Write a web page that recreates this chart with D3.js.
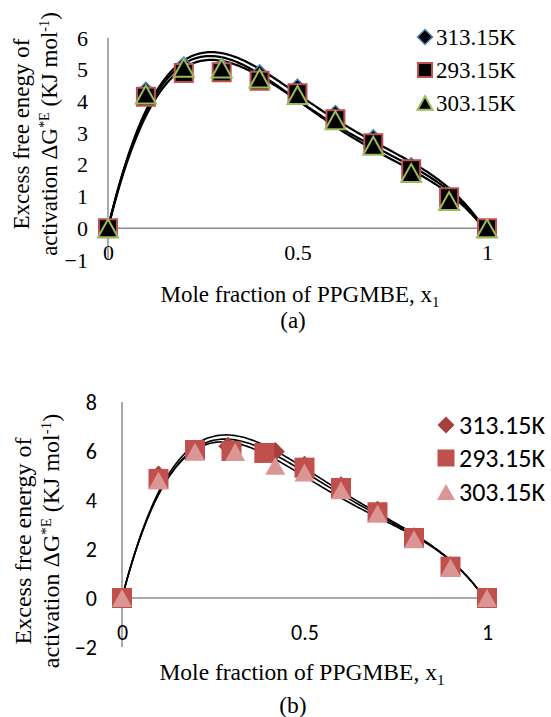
<!DOCTYPE html>
<html>
<head>
<meta charset="utf-8">
<script src="https://cdn.jsdelivr.net/npm/d3@7/dist/d3.min.js"></script>
<style>
  body { margin: 0; background: #fff; }
  svg { display: block; }
</style>
</head>
<body>
<svg id="chart" width="551" height="717"></svg>
<script>
// Series names (legend order)
const seriesNames = ["313.15K", "293.15K", "303.15K"];

// Panel (a): mole fraction x1 and excess free energy of activation (kJ/mol)
const xA = [0, 0.1, 0.2, 0.3, 0.4, 0.5, 0.6, 0.7, 0.8, 0.9, 1.0];
const a313 = [0, 4.35, 5.15, 5.10, 4.90, 4.45, 3.62, 2.85, 1.97, 1.05, 0];
const a293 = [0, 4.15, 4.90, 4.92, 4.65, 4.26, 3.44, 2.68, 1.86, 0.98, 0];
const a303 = [0, 4.22, 5.06, 5.04, 4.72, 4.20, 3.41, 2.60, 1.74, 0.86, 0];

// Panel (b)
const xB313 = [0, 0.1, 0.2, 0.29, 0.42, 0.5, 0.6, 0.7, 0.8, 0.9, 1.0];
const b313  = [0, 5.02, 6.08, 6.19, 5.98, 5.42, 4.58, 3.58, 2.50, 1.32, 0];
const xB293 = [0, 0.1, 0.2, 0.3, 0.39, 0.5, 0.6, 0.7, 0.8, 0.9, 1.0];
const b293  = [0, 4.86, 6.04, 6.00, 5.92, 5.32, 4.49, 3.50, 2.45, 1.28, 0];
const xB303 = [0, 0.1, 0.2, 0.31, 0.42, 0.5, 0.6, 0.7, 0.8, 0.9, 1.0];
const b303  = [0, 4.80, 5.97, 5.96, 5.40, 5.12, 4.40, 3.45, 2.40, 1.24, 0];

// Axis ticks
const xTicks = [0, 0.5, 1];
const yTicksA = [-1, 0, 1, 2, 3, 4, 5, 6];
const yTicksB = [-2, 0, 2, 4, 6, 8];

// Trendline: least-squares polynomial with zero intercept
const TREND_DEGREE = 4;
function polyFit(xs, ys, deg) {
  const n = deg;
  const M = Array.from({length: n}, () => new Array(n + 1).fill(0));
  xs.forEach((x, i) => {
    const phi = d3.range(1, deg + 1).map(k => Math.pow(x, k));
    for (let r = 0; r < n; r++) {
      for (let c = 0; c < n; c++) M[r][c] += phi[r] * phi[c];
      M[r][n] += phi[r] * ys[i];
    }
  });
  for (let p = 0; p < n; p++) {
    let best = p;
    for (let r = p + 1; r < n; r++) if (Math.abs(M[r][p]) > Math.abs(M[best][p])) best = r;
    [M[p], M[best]] = [M[best], M[p]];
    for (let r = 0; r < n; r++) {
      if (r === p) continue;
      const f = M[r][p] / M[p][p];
      for (let c = p; c <= n; c++) M[r][c] -= f * M[p][c];
    }
  }
  const coef = M.map((row, i) => row[n] / row[i]);
  return x => coef.reduce((s, cf, k) => s + cf * Math.pow(x, k + 1), 0);
}

const SERIF = '"Liberation Serif", "Times New Roman", serif';
const SANS = '"Carlito", "Lato", sans-serif';

const svg = d3.select("#chart");
svg.append("rect").attr("width", 551).attr("height", 717).attr("fill", "#fff");

function markerPath(kind, s) {
  const h = s / 2;
  if (kind === "diamond") return `M0,${-h}L${h},0L0,${h}L${-h},0Z`;
  if (kind === "square") return `M${-h},${-h}H${h}V${h}H${-h}Z`;
  const th = s * 0.9;
  return `M0,${-th / 2}L${h},${th / 2}L${-h},${th / 2}Z`;
}

function txt(sel, family, size) {
  return sel.style("font-family", family).style("font-size", size + "px").attr("fill", "#000");
}

function drawPanel(cfg) {
  const g = svg.append("g");
  const x = d3.scaleLinear().domain([0, 1]).range([cfg.x0, cfg.x1]);
  const y = d3.scaleLinear().domain(cfg.yDomain).range([cfg.yBottom, cfg.yTop]);

  // axis lines (no tick marks)
  g.append("line").attr("x1", x(0)).attr("x2", x(0))
    .attr("y1", y(cfg.yDomain[1])).attr("y2", y(cfg.yDomain[0]))
    .attr("stroke", "#8c8c8c").attr("stroke-width", 1.5);
  g.append("line").attr("x1", x(0)).attr("x2", x(1) + 3)
    .attr("y1", y(0)).attr("y2", y(0))
    .attr("stroke", "#8c8c8c").attr("stroke-width", 1.5);

  // y tick labels
  const yAxis = d3.axisLeft(y).tickValues(cfg.yTicks).tickSize(0).tickPadding(cfg.yPad)
    .tickFormat(d3.format("d"));
  const ya = g.append("g").attr("transform", `translate(${x(0)},0)`).call(yAxis);
  ya.select(".domain").remove();
  txt(ya.selectAll("text"), cfg.tickFont, cfg.tickSize);

  // x tick labels
  const xAxis = d3.axisBottom(x).tickValues(xTicks).tickSize(0).tickPadding(cfg.xPad)
    .tickFormat(d => d === 0.5 ? "0.5" : String(d));
  const xa = g.append("g").attr("transform", `translate(0,${y(0)})`).call(xAxis);
  xa.select(".domain").remove();
  txt(xa.selectAll("text"), cfg.tickFont, cfg.tickSize);

  // trendlines
  const xs = d3.range(0, 1.0001, 0.005);
  const line = d3.line().x(d => x(d[0])).y(d => y(d[1]));
  const fits = cfg.series.map(s => polyFit(s.x, s.y, TREND_DEGREE));
  fits.forEach(f => {
    g.append("path").datum(xs.map(v => [v, f(v)]))
      .attr("d", line).attr("fill", "none")
      .attr("stroke", "#fff").attr("stroke-width", cfg.lineW + 1.6);
  });
  fits.forEach(f => {
    g.append("path").datum(xs.map(v => [v, f(v)]))
      .attr("d", line).attr("fill", "none")
      .attr("stroke", "#000").attr("stroke-width", cfg.lineW);
  });

  // markers
  cfg.series.forEach(s => {
    g.append("g").selectAll("path").data(s.x.map((v, i) => [v, s.y[i]]))
      .join("path")
      .attr("transform", d => `translate(${x(d[0])},${y(d[1])})`)
      .attr("d", markerPath(s.kind, s.size))
      .attr("fill", s.fill).attr("stroke", s.stroke).attr("stroke-width", s.sw);
  });

  // legend
  const lg = g.append("g");
  cfg.series.forEach((s, i) => {
    const ly = cfg.legY[i];
    lg.append("path").attr("transform", `translate(${cfg.legMX},${ly})`)
      .attr("d", markerPath(s.kind, s.legSize))
      .attr("fill", s.fill).attr("stroke", s.stroke).attr("stroke-width", s.sw);
    txt(lg.append("text").attr("x", cfg.legTX).attr("y", ly).attr("dy", "0.35em"),
        cfg.legFont, cfg.legSize).text(seriesNames[i]);
  });

  // x-axis title
  const xt = txt(g.append("text").attr("x", cfg.xTitleX).attr("y", cfg.xTitleY)
    .attr("text-anchor", "middle"), SERIF, cfg.titleSize);
  xt.append("tspan").text("Mole fraction of PPGMBE, x");
  xt.append("tspan").style("font-size", (cfg.titleSize * 0.65) + "px").attr("dy", 5).text("1");

  // caption
  txt(g.append("text").attr("x", cfg.capX).attr("y", cfg.capY).attr("text-anchor", "middle"),
      SERIF, cfg.titleSize).text(cfg.caption);

  // y-axis title (two rotated lines)
  const yt = g.append("g").attr("transform", `translate(${cfg.yTitleX},${cfg.yTitleY}) rotate(-90)`);
  txt(yt.append("text").attr("x", 0).attr("y", 0).attr("text-anchor", "middle"),
      SERIF, cfg.ytSize).text(cfg.yLine1);
  const l2 = txt(yt.append("text").attr("x", 0).attr("y", cfg.yLineGap).attr("text-anchor", "middle"),
      SERIF, cfg.ytSize);
  const sup = (cfg.ytSize * 0.62) + "px";
  l2.append("tspan").text("activation ΔG");
  l2.append("tspan").style("font-size", sup).attr("dy", -8).text("*E");
  l2.append("tspan").attr("dy", 8).text(" (KJ mol");
  l2.append("tspan").style("font-size", sup).attr("dy", -8).text("-1");
  l2.append("tspan").attr("dy", 8).text(")");
}

drawPanel({
  x0: 108, x1: 487, yTop: 38, yBottom: 260, yDomain: [-1, 6],
  yTicks: yTicksA, tickFont: SERIF, tickSize: 22, yPad: 20, xPad: 16,
  lineW: 2.2,
  series: [
    {x: xA, y: a313, kind: "diamond", size: 16, legSize: 15, fill: "#000", stroke: "#4F81BD", sw: 1.5},
    {x: xA, y: a293, kind: "square", size: 18, legSize: 14, fill: "#000", stroke: "#C0504D", sw: 2},
    {x: xA, y: a303, kind: "triangle", size: 20, legSize: 15, fill: "#000", stroke: "#9BBB59", sw: 2}
  ],
  legMX: 425, legTX: 436, legY: [37, 70, 103], legFont: SERIF, legSize: 23,
  xTitleX: 300, xTitleY: 302, titleSize: 23, capX: 293, capY: 328, caption: "(a)",
  yTitleX: 29, yTitleY: 134, ytSize: 23, yLineGap: 28, yLine1: "Excess free enegy of"
});

drawPanel({
  x0: 122, x1: 487, yTop: 402, yBottom: 647, yDomain: [-2, 8],
  yTicks: yTicksB, tickFont: SANS, tickSize: 22, yPad: 25, xPad: 26,
  lineW: 1.6,
  series: [
    {x: xB313, y: b313, kind: "diamond", size: 19, legSize: 17, fill: "#A5403D", stroke: "none", sw: 0},
    {x: xB293, y: b293, kind: "square", size: 20, legSize: 17, fill: "#C0504D", stroke: "none", sw: 0},
    {x: xB303, y: b303, kind: "triangle", size: 20, legSize: 18, fill: "#D99694", stroke: "none", sw: 0}
  ],
  legMX: 446, legTX: 459, legY: [425, 458, 492], legFont: SANS, legSize: 26,
  xTitleX: 302, xTitleY: 680, titleSize: 23.5, capX: 293, capY: 713, caption: "(b)",
  yTitleX: 31, yTitleY: 541, ytSize: 24, yLineGap: 28, yLine1: "Excess free energy of"
});
</script>
</body>
</html>
